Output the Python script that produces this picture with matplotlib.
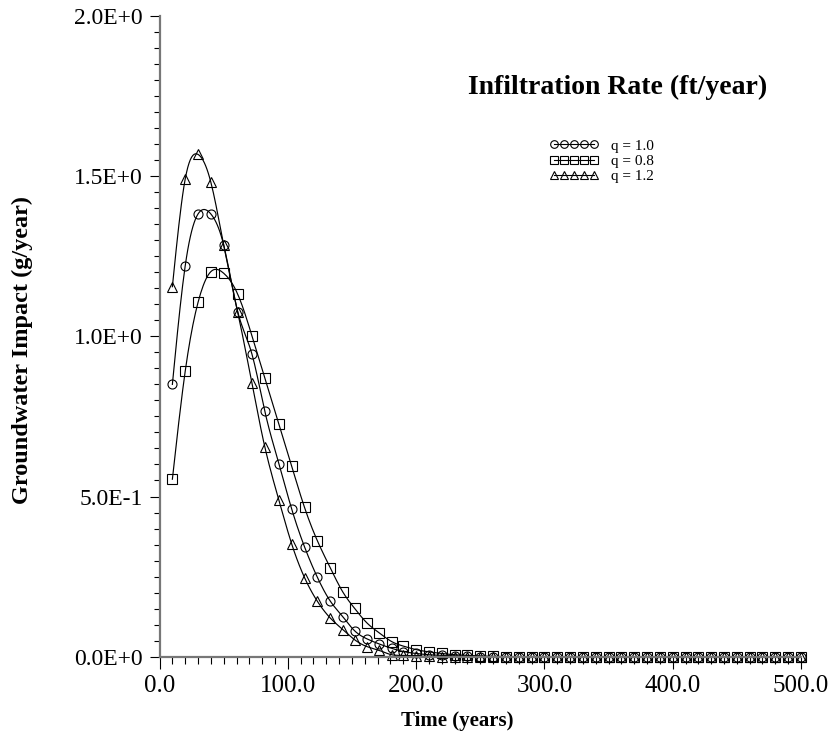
import numpy as np
import matplotlib
matplotlib.use("Agg")
import matplotlib.pyplot as plt
from matplotlib.ticker import MultipleLocator, FuncFormatter

plt.rcParams['font.family'] = ['Liberation Serif', 'DejaVu Serif']

# time of each output point (years)
time = [10, 20, 30, 40, 50, 61, 72, 82, 93, 103, 113, 123, 133, 143, 152, 162, 171, 181,
        190, 200, 210, 220, 230, 240, 250, 260, 270, 280, 290, 300, 310, 320, 330, 340,
        350, 360, 370, 380, 390, 400, 410, 420, 430, 440, 450, 460, 470, 480, 490, 500]

# groundwater impact (g/year) for each infiltration rate
q10 = [0.850, 1.220, 1.382, 1.382, 1.285, 1.076, 0.945, 0.767, 0.603, 0.461, 0.343, 0.248,
       0.174, 0.124, 0.081, 0.055, 0.040, 0.026, 0.016, 0.010, 0.006, 0.004, 0.002, 0.001] + [0.0] * 26
q08 = [0.554, 0.891, 1.106, 1.202, 1.197, 1.131, 1.002, 0.871, 0.727, 0.595, 0.466, 0.362,
       0.278, 0.201, 0.151, 0.104, 0.075, 0.047, 0.033, 0.022, 0.015, 0.010, 0.006, 0.004,
       0.002, 0.001] + [0.0] * 24
q12 = [1.155, 1.491, 1.568, 1.481, 1.285, 1.075, 0.854, 0.656, 0.489, 0.352, 0.247, 0.173,
       0.121, 0.084, 0.053, 0.031, 0.020, 0.006, 0.004, 0.002, 0.001] + [0.0] * 29

series = [(q10, 'o', 'q = 1.0'), (q08, 's', 'q = 0.8'), (q12, '^', 'q = 1.2')]


def spline(x, y, per=10):
    # natural cubic spline, only used to draw the smooth connecting line
    x = np.asarray(x, float)
    y = np.asarray(y, float)
    n = len(x)
    h = np.diff(x)
    A = np.zeros((n, n))
    r = np.zeros(n)
    A[0, 0] = A[-1, -1] = 1
    for i in range(1, n - 1):
        A[i, i - 1] = h[i - 1]
        A[i, i] = 2 * (h[i - 1] + h[i])
        A[i, i + 1] = h[i]
        r[i] = 6 * ((y[i + 1] - y[i]) / h[i] - (y[i] - y[i - 1]) / h[i - 1])
    m = np.linalg.solve(A, r)
    xs, ys = [], []
    for i in range(n - 1):
        t = np.linspace(x[i], x[i + 1], per, endpoint=False)
        a = x[i + 1] - t
        b = t - x[i]
        s = (m[i] * a**3 + m[i + 1] * b**3) / (6 * h[i]) \
            + (y[i] / h[i] - m[i] * h[i] / 6) * a + (y[i + 1] / h[i] - m[i + 1] * h[i] / 6) * b
        xs.append(t)
        ys.append(s)
    xs.append([x[-1]])
    ys.append([y[-1]])
    return np.concatenate(xs), np.concatenate(ys)


fig = plt.figure(figsize=(8.34, 7.38), dpi=100)
ax = fig.add_axes([0.1913, 0.1102, 0.7691, 0.8681])

for vals, mk, lab in series:
    sx, sy = spline(time, vals)
    ax.plot(sx, sy, color='black', lw=0.85, clip_on=False)
    ax.plot(time, vals, linestyle='none', marker=mk, ms=6.5, mew=0.8, mec='black',
            fillstyle='none', clip_on=False)
    # legend proxy
    ax.plot([], [], color='black', lw=0.8, marker=mk, ms=5.5, mew=0.8, fillstyle='none', label=lab)

ax.set_xlim(0, 500)
ax.set_ylim(0, 2.0)
ax.xaxis.set_major_locator(MultipleLocator(100))
ax.xaxis.set_minor_locator(MultipleLocator(10))
ax.yaxis.set_major_locator(MultipleLocator(0.5))
ax.yaxis.set_minor_locator(MultipleLocator(0.05))


def sci(v, pos):
    if abs(v) < 1e-12:
        return "0.0E+0"
    e = int(np.floor(np.log10(abs(v)) + 1e-9))
    return f"{v / 10**e:.1f}E{e:+d}"


ax.yaxis.set_major_formatter(FuncFormatter(sci))
ax.xaxis.set_major_formatter(FuncFormatter(lambda v, p: f"{v:.1f}"))

for s in ['top', 'right']:
    ax.spines[s].set_visible(False)
for s in ['left', 'bottom']:
    ax.spines[s].set_color('#777777')
    ax.spines[s].set_linewidth(1.6)

ax.tick_params(axis='x', which='major', length=8.5, width=0.8, pad=5, labelsize=18)
ax.tick_params(axis='x', which='minor', length=5, width=0.8)
ax.tick_params(axis='y', which='major', length=7.5, width=0.8, pad=4.5, labelsize=17)
ax.tick_params(axis='y', which='minor', length=4, width=0.8)

ax.set_xlabel("Time (years)", fontsize=15, fontweight='bold')
ax.xaxis.set_label_coords(0.464, -0.085)
ax.set_ylabel("Groundwater Impact (g/year)", fontsize=17.5, fontweight='bold')
ax.yaxis.set_label_coords(-0.197, 0.479)

fig.text(0.741, 0.872, "Infiltration Rate (ft/year)", fontsize=20, fontweight='bold',
         ha='center', va='baseline')
ax.legend(loc='upper left', bbox_to_anchor=(0.608, 0.808), frameon=False, numpoints=5,
          handlelength=3.2, handletextpad=0.8, labelspacing=0.1, fontsize=11,
          borderpad=0, borderaxespad=0)

fig.savefig("out.png", dpi=100)
